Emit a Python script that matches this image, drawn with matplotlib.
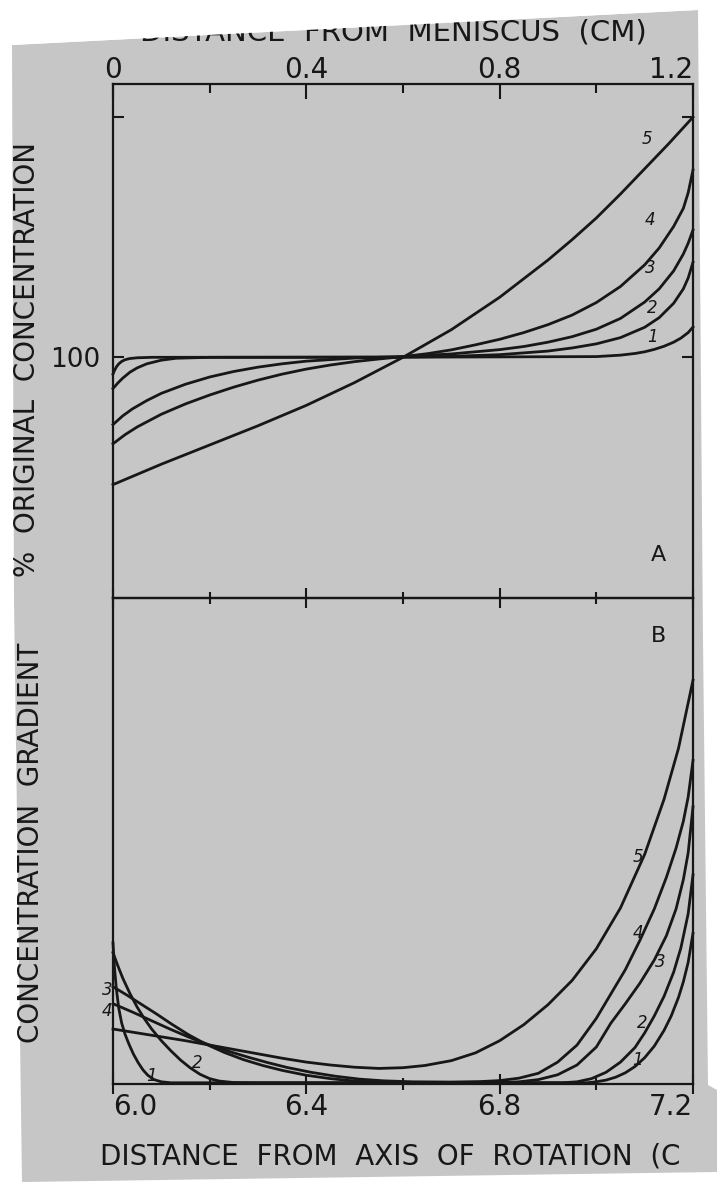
import matplotlib
matplotlib.use("Agg")
import matplotlib.pyplot as plt
from matplotlib.patches import Polygon

# panel A: % of original concentration vs distance from meniscus (cm)
a1_x = [0, 0.003, 0.007, 0.012, 0.018, 0.025, 0.035, 0.05, 0.08, 0.6, 1.0, 1.05, 1.08, 1.1, 1.12, 1.14, 1.16, 1.175, 1.19, 1.2]
a1_y = [93, 94.5, 96, 97.3, 98.3, 99, 99.5, 99.8, 100, 100.05, 100.3, 100.9, 101.6, 102.3, 103.3, 104.6, 106.3, 108, 110.3, 112.6]
a2_x = [0, 0.01, 0.02, 0.035, 0.05, 0.07, 0.1, 0.13, 0.2, 0.6, 0.7, 0.8, 0.9, 0.95, 1.0, 1.05, 1.1, 1.13, 1.16, 1.18, 1.19, 1.2]
a2_y = [87, 89.3, 91.3, 93.8, 95.6, 97.3, 98.8, 99.6, 100, 100.1, 100.4, 101.1, 102.6, 103.9, 105.6, 108.2, 112.5, 116.5, 122.5, 128.5, 133, 139.6]
a3_x = [0, 0.02, 0.04, 0.07, 0.1, 0.15, 0.2, 0.25, 0.3, 0.35, 0.4, 0.5, 0.6, 0.7, 0.8, 0.85, 0.9, 0.95, 1.0, 1.05, 1.1, 1.13, 1.16, 1.18, 1.19, 1.2]
a3_y = [72, 75.6, 78.5, 82, 85, 88.8, 91.8, 94.1, 95.9, 97.3, 98.4, 99.7, 100.3, 101.4, 103.2, 104.5, 106.3, 108.6, 111.7, 116.2, 123, 128.5, 136, 143, 147.5, 153]
a4_x = [0, 0.025, 0.05, 0.1, 0.15, 0.2, 0.25, 0.3, 0.35, 0.4, 0.45, 0.5, 0.55, 0.6, 0.65, 0.7, 0.75, 0.8, 0.85, 0.9, 0.95, 1.0, 1.05, 1.1, 1.13, 1.16, 1.18, 1.19, 1.2]
a4_y = [64, 67.8, 71, 76.3, 80.6, 84.3, 87.6, 90.5, 93, 95.1, 96.8, 98.2, 99.3, 100.3, 101.5, 103.1, 105.2, 107.5, 110.3, 113.6, 117.6, 122.8, 129.5, 138.5, 145.5, 154.5, 162, 168.5, 178]
a5_x = [0, 0.1, 0.2, 0.3, 0.4, 0.5, 0.6, 0.7, 0.8, 0.9, 0.95, 1.0, 1.05, 1.1, 1.15, 1.2]
a5_y = [47, 55.5, 63.5, 71.5, 80, 89.5, 100, 111.5, 125, 140.5, 149, 158, 168, 178.5, 189, 200]

# panel B: concentration gradient vs distance from axis of rotation (cm)
b1_x = [6.0, 6.003, 6.007, 6.012, 6.018, 6.025, 6.033, 6.042, 6.052, 6.062, 6.072, 6.085, 6.1, 6.12, 6.98,
        7.0, 7.02, 7.04, 7.06, 7.08, 7.1, 7.12, 7.14, 7.155, 7.17, 7.18, 7.19, 7.2]
b1_y = [29, 24, 19.5, 15.5, 12.5, 10.2, 8.2, 6.2, 4.4, 2.9, 1.8, 0.9, 0.45, 0.25, 0.25,
        0.45, 0.8, 1.4, 2.3, 3.6, 5.4, 7.8, 11, 14, 17.8, 21, 25, 31]
b2_x = [6.0, 6.01, 6.02, 6.035, 6.05, 6.065, 6.08, 6.1, 6.12, 6.14, 6.16, 6.18, 6.2, 6.22, 6.25, 6.3, 6.93,
        6.96, 6.99, 7.02, 7.05, 7.08, 7.1, 7.12, 7.14, 7.16, 7.175, 7.19, 7.2]
b2_y = [27, 24.3, 21.8, 18.6, 15.8, 13.4, 11.3, 8.9, 6.8, 4.9, 3.3, 2.0, 1.1, 0.6, 0.3, 0.25, 0.25,
        0.45, 1.1, 2.4, 4.5, 7.5, 10.5, 14, 18, 23, 28, 35, 43]
b3_x = [6.0, 6.03, 6.06, 6.09, 6.12, 6.155, 6.19, 6.23, 6.27, 6.31, 6.35, 6.4, 6.45, 6.5, 6.55, 6.6, 6.8,
        6.84, 6.88, 6.92, 6.96, 7.0, 7.03, 7.06, 7.09, 7.12, 7.145, 7.165, 7.18, 7.19, 7.2]
b3_y = [20, 18.2, 16.3, 14.4, 12.4, 10.2, 8.3, 6.5, 5.0, 3.8, 2.8, 1.8, 1.1, 0.6, 0.4, 0.3, 0.3,
        0.45, 0.9, 1.9, 3.9, 7.6, 12.5, 16.5, 20.7, 25.5, 30.5, 36, 42, 47.5, 57]
b4_x = [6.0, 6.04, 6.08, 6.12, 6.16, 6.2, 6.24, 6.28, 6.32, 6.36, 6.41, 6.46, 6.51, 6.56, 6.62, 6.7, 6.76,
        6.8, 6.84, 6.88, 6.92, 6.96, 7.0, 7.03, 7.06, 7.09, 7.12, 7.145, 7.165, 7.18, 7.19, 7.2]
b4_y = [16.5, 14.8, 13.0, 11.2, 9.5, 8.0, 6.7, 5.5, 4.4, 3.4, 2.4, 1.6, 1.0, 0.65, 0.45, 0.4, 0.5,
        0.7, 1.2, 2.2, 4.5, 8.0, 13.5, 18.5, 23.5, 29.5, 36, 42.5, 48.5, 54, 59, 66.5]
b5_x = [6.0, 6.05, 6.1, 6.15, 6.2, 6.25, 6.3, 6.35, 6.4, 6.45, 6.5, 6.55, 6.6, 6.645, 6.7, 6.75, 6.8,
        6.85, 6.9, 6.95, 7.0, 7.05, 7.1, 7.14, 7.17, 7.2]
b5_y = [11.3, 10.5, 9.7, 8.9, 8.0, 7.1, 6.2, 5.3, 4.5, 3.9, 3.45, 3.2, 3.35, 3.8, 4.8, 6.4, 8.9,
        12.2, 16.3, 21.3, 27.8, 36.2, 47.2, 58.5, 69, 83]

top_ticks = [0, 0.4, 0.8, 1.2]
top_labels = ['0', '0.4', '0.8', '1.2']
bot_ticks = [6.0, 6.4, 6.8, 7.2]
bot_labels = ['6.0', '6.4', '6.8', '7.2']

W, H = 717, 1191
ink = '#171717'
paper = '#c6c6c6'

def fp(x, y):
    return (x / W, 1 - y / H)

fig = plt.figure(figsize=(W / 100, H / 100), dpi=100)
fig.patch.set_facecolor('white')
plt.rcParams['font.family'] = ['DejaVu Sans']

# the photographic print, slightly skewed on the white page
photo = [(12, 45), (698, 10), (703, 640), (708, 1085), (717, 1090), (717, 1172), (22, 1182), (14, 600)]
fig.add_artist(Polygon([fp(*p) for p in photo], closed=True, transform=fig.transFigure,
                       facecolor=paper, edgecolor='none', zorder=-5))
cut = [(0, 0), (717, 0), (717, 9), (12, 45), (0, 45)]
fig.add_artist(Polygon([fp(*p) for p in cut], closed=True, transform=fig.transFigure,
                       facecolor='white', edgecolor='none', zorder=5))

L, R = 113, 693
axA = fig.add_axes([L / W, 1 - 597.5 / H, (R - L) / W, (597.5 - 83.5) / H])
axB = fig.add_axes([L / W, 1 - 1084 / H, (R - L) / W, (1084 - 597.5) / H])

for ax in (axA, axB):
    ax.set_facecolor('none')
    for s in ax.spines.values():
        s.set_linewidth(1.6)
        s.set_color(ink)

lw = 2.0
for x, y in [(a1_x, a1_y), (a2_x, a2_y), (a3_x, a3_y), (a4_x, a4_y), (a5_x, a5_y)]:
    axA.plot(x, y, color=ink, lw=lw, clip_on=False, solid_joinstyle='round')
for x, y in [(b1_x, b1_y), (b2_x, b2_y), (b3_x, b3_y), (b4_x, b4_y), (b5_x, b5_y)]:
    axB.plot(x, y, color=ink, lw=lw, clip_on=False, solid_joinstyle='round')

# panel A axes
axA.set_xlim(0, 1.2)
axA.set_ylim(0, 214)
axA.set_xticks(top_ticks)
axA.set_xticklabels(top_labels)
axA.set_xticks([0.2, 0.6, 1.0], minor=True)
axA.xaxis.set_ticks_position('top')
axA.tick_params(axis='x', which='major', direction='in', length=11, width=1.5,
                labelsize=20, pad=0, colors=ink)
axA.tick_params(axis='x', which='minor', direction='in', length=6.5, width=1.5, colors=ink)
axA.set_yticks([100, 200])
axA.set_yticklabels(['100', ''])
axA.tick_params(axis='y', left=True, right=True, direction='in', length=8, width=1.5,
                labelsize=19, pad=9, colors=ink)
axA.get_xticklabels()[-1].set_ha('right')

# panel B axes
axB.set_xlim(6.0, 7.2)
axB.set_ylim(0, 100)
axB.set_yticks([])
axB.set_xticks(bot_ticks)
axB.set_xticklabels(bot_labels)
axB.set_xticks([6.2, 6.6, 7.0], minor=True)
axB.tick_params(axis='x', which='major', top=True, bottom=True, direction='inout', length=15,
                width=1.5, labelsize=20, pad=-1, colors=ink)
axB.tick_params(axis='x', which='minor', top=True, bottom=True, direction='inout', length=9,
                width=1.5, colors=ink)
bl = axB.get_xticklabels()
bl[0].set_ha('left')
bl[-1].set_ha('right')

# curve numbers
num = dict(fontsize=12, style='italic', ha='center', va='center', color=ink)
for x, y, t in [(1.105, 191, '5'), (1.111, 157, '4'), (1.111, 137, '3'), (1.115, 120.5, '2'), (1.117, 108.5, '1')]:
    axA.text(x, y, t, **num)
for x, y, t in [(7.086, 46.7, '5'), (7.086, 31, '4'), (7.132, 25.1, '3'), (7.094, 12.5, '2'), (7.086, 4.9, '1'),
                (5.988, 19.3, '3'), (5.988, 15, '4'), (6.079, 1.6, '1'), (6.174, 4.3, '2')]:
    axB.text(x, y, t, **num)

axA.text(0.94, 0.083, 'A', transform=axA.transAxes, fontsize=16, ha='center', va='center', color=ink)
axB.text(0.94, 0.921, 'B', transform=axB.transAxes, fontsize=16, ha='center', va='center', color=ink)

fig.text(393 / W, 1 - 32 / H, 'DISTANCE  FROM  MENISCUS  (CM)', ha='center', va='center',
         fontsize=21, color=ink, zorder=1)
fig.text(100 / W, 1 - 1157 / H, 'DISTANCE  FROM  AXIS  OF  ROTATION  (C', ha='left', va='center',
         fontsize=20, color=ink)
fig.text(27 / W, 1 - 577 / H, '%  ORIGINAL  CONCENTRATION', rotation=90, ha='center', va='bottom',
         fontsize=20, color=ink)
fig.text(31 / W, 1 - 1043 / H, 'CONCENTRATION  GRADIENT', rotation=90, ha='center', va='bottom',
         fontsize=20, color=ink)

fig.savefig('out.png', dpi=100, facecolor=fig.get_facecolor())
